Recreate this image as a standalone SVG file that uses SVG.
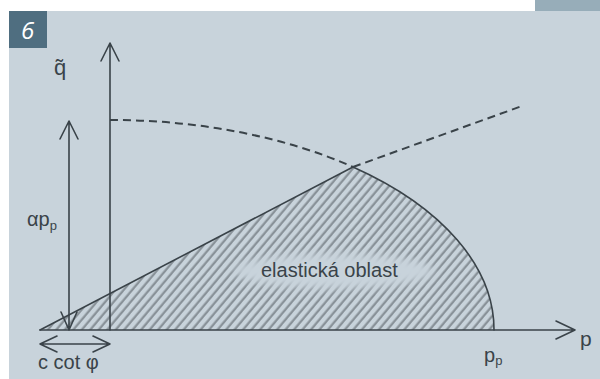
<svg xmlns="http://www.w3.org/2000/svg" width="600" height="379" viewBox="0 0 600 379">
<style>
.ln{fill:none;stroke:#3a4349;stroke-width:1.6;stroke-linecap:round;stroke-linejoin:round}
.ds{fill:none;stroke:#3a4349;stroke-width:2;stroke-dasharray:8 5}
.tx{font-family:"Liberation Sans",Arial,sans-serif;fill:#3a4349}
</style>
<defs>
<pattern id="hatch" patternUnits="userSpaceOnUse" width="6.5" height="6.5" patternTransform="rotate(40)">
<rect width="6.5" height="6.5" fill="#c8d3db"/>
<line x1="1.6" y1="0" x2="1.6" y2="6.5" stroke="#868f96" stroke-width="2.2"/>
</pattern>
<filter id="blur" x="-20%" y="-50%" width="140%" height="200%"><feGaussianBlur stdDeviation="4"/></filter>
</defs>
<rect x="0" y="0" width="600" height="379" fill="#ffffff"/>
<rect x="9" y="11" width="591" height="368" fill="#c8d3db"/>
<rect x="535" y="0" width="65" height="11" fill="#97adb9"/>
<g id="badge">
<rect x="9" y="11" width="38" height="37" fill="#4f6e80"/>
<text x="21" y="39" font-family="'Open Sans',sans-serif" font-style="italic" font-size="24" fill="#ffffff">6</text>
</g>
<g id="region">
<path d="M40,330 L353,167 A384,210 0 0 1 494,330 Z" fill="url(#hatch)"/>
<ellipse cx="334" cy="271" rx="100" ry="17" fill="#c8d3db" filter="url(#blur)"/>
<text class="tx" x="261" y="277" font-size="20">elastická oblast</text>
</g>
<g id="connectors">
<path class="ln" d="M40,330 L353,167 A384,210 0 0 1 494,330"/>
<path class="ds" d="M110,120 A384,210 0 0 1 353,167"/>
<path class="ds" d="M353,167 L522,106"/>
<path class="ln" d="M110,330 V43 M101,61 L110,43 L119,61"/>
<path class="ln" d="M40,330 H575 M556,321 L575,330 L556,339"/>
<path class="ln" d="M69,121 V330 M60,139 L69,121 L78,139 M61,312 L69,330 L77,312"/>
<path class="ln" d="M40,344 H110 M57,336 L40,344 L57,352 M93,336 L110,344 L93,352"/>
</g>
<g id="labels">
<text class="tx" x="54" y="75" font-size="22">q̃</text>
<text class="tx" x="27" y="226" font-size="20">αp<tspan font-size="13" dy="4">p</tspan></text>
<text class="tx" x="38" y="369" font-size="20">c cot φ</text>
<text class="tx" x="484" y="362" font-size="20">p<tspan font-size="13" dy="3">p</tspan></text>
<text class="tx" x="580" y="346" font-size="21">p</text>
</g>
</svg>
